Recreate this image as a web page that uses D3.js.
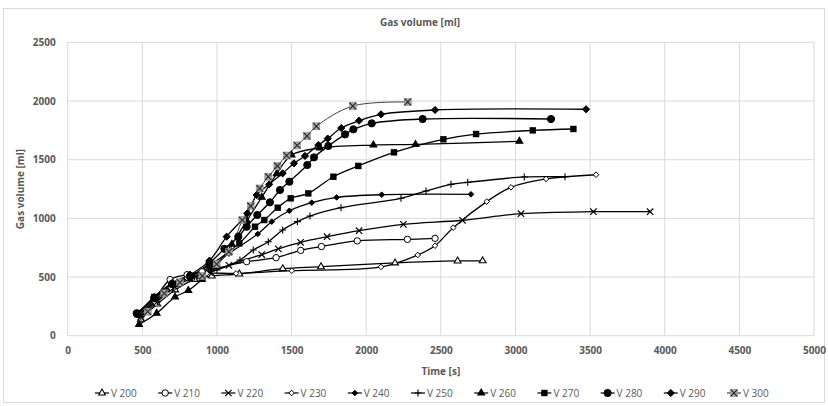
<!DOCTYPE html>
<html>
<head>
<meta charset="utf-8">
<script src="https://cdn.jsdelivr.net/npm/d3@7"></script>
<style>
  body { margin: 0; background: #fff; }
  text { font-family: "Open Sans", "Noto Sans", sans-serif; }
</style>
</head>
<body>
<div id="chart"></div>
<script>
// values: [time s, gas volume ml]
var v200 = [[490,140],[600,270],[720,390],[850,480],[965,509],[1150,526],[1441,571],[1697,588],[2193,620],[2612,637],[2780,638]];
var v210 = [[480,180],[580,310],[686,478],[800,520],[900,545],[1199,631],[1396,665],[1561,727],[1700,760],[1940,808],[2276,821],[2461,830]];
var v220 = [[490,160],[590,290],[700,400],[820,490],[950,540],[1080,600],[1300,692],[1411,740],[1560,796],[1738,844],[1952,895],[2249,949],[2645,984],[3037,1040],[3522,1057],[3902,1057]];
var v230 = [[480,170],[580,290],[690,410],[800,490],[930,530],[1128,531],[1501,554],[2099,586],[2345,688],[2461,767],[2583,921],[2807,1143],[2970,1265],[3205,1336],[3540,1372]];
var v240 = [[480,180],[590,320],[700,430],[820,510],[950,580],[1080,700],[1273,867],[1367,972],[1485,1065],[1635,1134],[1802,1179],[2104,1202],[2702,1205]];
var v250 = [[490,160],[600,290],[720,420],[850,500],[1000,560],[1154,645],[1243,730],[1344,801],[1440,901],[1539,972],[1623,1020],[1831,1091],[2233,1171],[2401,1234],[2568,1290],[2680,1307],[3059,1353],[3332,1355]];
var v260 = [[478,95],[596,191],[719,330],[808,385],[900,480],[1000,600],[1100,780],[1200,980],[1300,1180],[1400,1380],[1500,1540],[1690,1600],[2048,1625],[2330,1630],[3026,1657]];
var v270 = [[470,180],[580,330],[700,440],[820,510],[950,600],[1150,787],[1255,929],[1317,986],[1407,1091],[1494,1171],[1612,1213],[1780,1355],[1947,1447],[2186,1563],[2517,1674],[2736,1719],[3116,1750],[3388,1762]];
var v280 = [[462,191],[580,320],[700,440],[820,500],[950,620],[1050,740],[1143,844],[1199,929],[1270,1029],[1355,1137],[1422,1242],[1485,1313],[1605,1455],[1650,1520],[1746,1617],[1858,1716],[1914,1759],[2037,1810],[2378,1847],[3238,1847]];
var v290 = [[470,190],[580,330],[700,450],[820,520],[950,640],[1065,844],[1203,1043],[1266,1199],[1350,1290],[1440,1384],[1516,1469],[1590,1532],[1679,1625],[1742,1680],[1833,1770],[1952,1833],[2099,1887],[2461,1924],[3473,1930]];
var v300 = [[536,205],[647,361],[752,455],[902,509],[998,610],[1080,716],[1170,985],[1226,1105],[1286,1255],[1344,1355],[1405,1447],[1467,1536],[1537,1622],[1603,1702],[1666,1785],[1910,1958],[2278,1992]];

var seriesNames = ["V 200","V 210","V 220","V 230","V 240","V 250","V 260","V 270","V 280","V 290","V 300"];
var seriesData = [v200, v210, v220, v230, v240, v250, v260, v270, v280, v290, v300];
var markerTypes = ["triOpen","circleOpen","times","diamondOpen","diamondSmall","plus","tri","square","circle","diamond","boxX"];

var xTicks = [0,500,1000,1500,2000,2500,3000,3500,4000,4500,5000];
var yTicks = [0,500,1000,1500,2000,2500];

var W = 828, H = 406;
var margin = {top: 42.4, right: 14, bottom: 70.3, left: 67.7},
    width = W - margin.left - margin.right,
    height = H - margin.top - margin.bottom;

var svg = d3.select("#chart").append("svg")
    .attr("width", W).attr("height", H);

// chart border
svg.append("rect")
    .attr("x", 3.5).attr("y", 8.5)
    .attr("width", W - 7).attr("height", H - 12)
    .attr("fill", "none").attr("stroke", "#d9d9d9");

var g = svg.append("g")
    .attr("transform", "translate(" + margin.left + "," + margin.top + ")");

var x = d3.scaleLinear().domain([0, 5000]).range([0, width]);
var y = d3.scaleLinear().domain([0, 2500]).range([height, 0]);

// grid
g.append("g").selectAll("line").data(yTicks).enter().append("line")
    .attr("x1", 0).attr("x2", width)
    .attr("y1", d => y(d)).attr("y2", d => y(d))
    .attr("stroke", "#d9d9d9");
g.append("g").selectAll("line").data(xTicks).enter().append("line")
    .attr("x1", d => x(d)).attr("x2", d => x(d))
    .attr("y1", 0).attr("y2", height)
    .attr("stroke", "#d9d9d9");

// axes (labels only)
var xAxis = g.append("g").attr("transform", "translate(0," + height + ")")
    .call(d3.axisBottom(x).tickValues(xTicks).tickFormat(d3.format("d")).tickSize(0).tickPadding(11));
var yAxis = g.append("g")
    .call(d3.axisLeft(y).tickValues(yTicks).tickFormat(d3.format("d")).tickSize(0).tickPadding(12));
[xAxis, yAxis].forEach(function(a) {
  a.select(".domain").remove();
  a.selectAll("text")
    .attr("fill", "#595959")
    .style("font-size", "10px")
    .style("font-weight", "bold")
    .style("font-family", "'Open Sans', sans-serif");
});

// titles
svg.append("text").attr("x", 420).attr("y", 26)
    .attr("text-anchor", "middle").attr("fill", "#595959")
    .style("font-size", "10px").style("font-weight", "bold")
    .text("Gas volume [ml]");
svg.append("text").attr("x", margin.left + width / 2).attr("y", 375)
    .attr("text-anchor", "middle").attr("fill", "#595959")
    .style("font-size", "10px").style("font-weight", "bold")
    .text("Time [s]");
svg.append("text")
    .attr("transform", "translate(24," + (margin.top + height / 2) + ") rotate(-90)")
    .attr("text-anchor", "middle").attr("fill", "#595959")
    .style("font-size", "10px").style("font-weight", "bold")
    .text("Gas volume [ml]");

// marker drawing
function drawMarker(sel, type) {
  if (type == "triOpen" || type == "tri") {
    sel.append("path").attr("d", d3.symbol(d3.symbolTriangle, 20)())
      .attr("fill", type == "tri" ? "#000" : "#fff").attr("stroke", "#000").attr("stroke-width", 1.1);
  } else if (type == "circleOpen" || type == "circle") {
    sel.append("circle").attr("r", type == "circle" ? 3.6 : 3.2)
      .attr("fill", type == "circle" ? "#000" : "#fff").attr("stroke", "#000").attr("stroke-width", 1);
  } else if (type == "square") {
    sel.append("rect").attr("x", -3.2).attr("y", -3.2).attr("width", 6.4).attr("height", 6.4)
      .attr("fill", "#000");
  } else if (type == "diamondOpen" || type == "diamondSmall" || type == "diamond") {
    var r = type == "diamond" ? 3.6 : 2.8;
    sel.append("path").attr("d", "M0," + (-r) + "L" + r + ",0L0," + r + "L" + (-r) + ",0Z")
      .attr("fill", type == "diamondOpen" ? "#fff" : "#000").attr("stroke", "#000").attr("stroke-width", 1);
  } else if (type == "plus") {
    sel.append("path").attr("d", "M-3.5,0H3.5M0,-3.5V3.5")
      .attr("stroke", "#000").attr("stroke-width", 1.1).attr("fill", "none");
  } else if (type == "times") {
    sel.append("path").attr("d", "M-3.2,-3.2L3.2,3.2M-3.2,3.2L3.2,-3.2")
      .attr("stroke", "#000").attr("stroke-width", 1.2).attr("fill", "none");
  } else if (type == "boxX") {
    sel.append("rect").attr("x", -3.5).attr("y", -3.5).attr("width", 7).attr("height", 7)
      .attr("fill", "#a6a6a6").attr("stroke", "#8c8c8c").attr("stroke-width", 0.6);
    sel.append("path").attr("d", "M-3.3,-3.3L3.3,3.3M-3.3,3.3L3.3,-3.3")
      .attr("stroke", "#262626").attr("stroke-width", 1.1).attr("fill", "none");
  }
}

var line = d3.line()
    .x(d => x(d[0])).y(d => y(d[1]))
    .curve(d3.curveCatmullRom.alpha(0.5));

seriesData.forEach(function(data, i) {
  g.append("path").datum(data)
    .attr("d", line)
    .attr("fill", "none")
    .attr("stroke", i == 10 ? "#404040" : "#000")
    .attr("stroke-width", i == 10 ? 1 : 1.3);
});

seriesData.forEach(function(data, i) {
  g.append("g").selectAll("g").data(data).enter().append("g")
    .attr("transform", d => "translate(" + x(d[0]) + "," + y(d[1]) + ")")
    .each(function() { drawMarker(d3.select(this), markerTypes[i]); });
});

// legend
var lx = d3.scalePoint().domain(seriesNames).range([102, 734]);
var legend = svg.append("g").selectAll("g").data(seriesNames).enter().append("g")
    .attr("transform", d => "translate(" + lx(d) + ",393)");
legend.append("line").attr("x1", -7).attr("x2", 7)
    .attr("stroke", (d, i) => i == 10 ? "#404040" : "#000").attr("stroke-width", 1.2);
legend.each(function(d, i) { drawMarker(d3.select(this), markerTypes[i]); });
legend.append("text").attr("x", 9).attr("y", 3.5)
    .attr("fill", "#595959").style("font-size", "10px")
    .text(d => d);
</script>
</body>
</html>
